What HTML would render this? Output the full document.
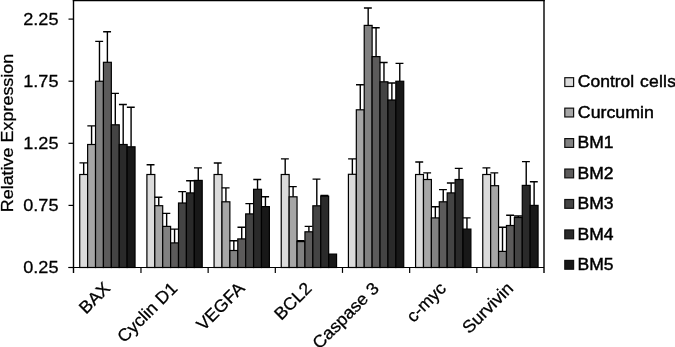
<!DOCTYPE html><html><head><meta charset="utf-8"><title>chart</title><style>html,body{margin:0;padding:0;background:#fff}svg{display:block}text{font-family:"Liberation Sans",sans-serif;fill:#000;stroke:#000;stroke-width:0.28px}text.lg{stroke-width:0.45px}</style></head><body>
<svg width="675" height="347" viewBox="0 0 675 347">
<rect width="675" height="347" fill="#fff"/>
<rect x="79.73" y="174.50" width="7.90" height="93.00" fill="#dbdbdb" stroke="#000" stroke-width="1.2"/>
<rect x="87.63" y="144.50" width="7.90" height="123.00" fill="#a6a6a6" stroke="#000" stroke-width="1.2"/>
<rect x="95.53" y="81.25" width="7.90" height="186.25" fill="#818181" stroke="#000" stroke-width="1.2"/>
<rect x="103.43" y="62.30" width="7.90" height="205.20" fill="#5c5b5b" stroke="#000" stroke-width="1.2"/>
<rect x="111.34" y="124.80" width="7.90" height="142.70" fill="#444444" stroke="#000" stroke-width="1.2"/>
<rect x="119.24" y="144.50" width="7.90" height="123.00" fill="#2a2a2a" stroke="#000" stroke-width="1.2"/>
<rect x="127.14" y="146.80" width="7.90" height="120.70" fill="#181818" stroke="#000" stroke-width="1.2"/>
<path d="M83.68 174.50V162.90M79.43 162.90H87.33" fill="none" stroke="#000" stroke-width="1.4"/>
<path d="M91.58 144.50V125.90M87.33 125.90H95.23" fill="none" stroke="#000" stroke-width="1.4"/>
<path d="M99.48 81.25V41.40M95.23 41.40H103.13" fill="none" stroke="#000" stroke-width="1.4"/>
<path d="M107.39 62.30V31.80M103.13 31.80H111.04" fill="none" stroke="#000" stroke-width="1.4"/>
<path d="M115.29 124.80V93.40M111.04 93.40H118.94" fill="none" stroke="#000" stroke-width="1.4"/>
<path d="M123.19 144.50V104.50M118.94 104.50H126.84" fill="none" stroke="#000" stroke-width="1.4"/>
<path d="M131.09 146.80V107.30M126.84 107.30H134.74" fill="none" stroke="#000" stroke-width="1.4"/>
<rect x="146.90" y="174.50" width="7.90" height="93.00" fill="#dbdbdb" stroke="#000" stroke-width="1.2"/>
<rect x="154.80" y="205.70" width="7.90" height="61.80" fill="#a6a6a6" stroke="#000" stroke-width="1.2"/>
<rect x="162.70" y="226.40" width="7.90" height="41.10" fill="#818181" stroke="#000" stroke-width="1.2"/>
<rect x="170.61" y="242.90" width="7.90" height="24.60" fill="#5c5b5b" stroke="#000" stroke-width="1.2"/>
<rect x="178.51" y="203.00" width="7.90" height="64.50" fill="#444444" stroke="#000" stroke-width="1.2"/>
<rect x="186.41" y="192.90" width="7.90" height="74.60" fill="#2a2a2a" stroke="#000" stroke-width="1.2"/>
<rect x="194.31" y="180.40" width="7.90" height="87.10" fill="#181818" stroke="#000" stroke-width="1.2"/>
<path d="M150.85 174.50V164.70M146.60 164.70H154.50" fill="none" stroke="#000" stroke-width="1.4"/>
<path d="M158.75 205.70V197.30M154.50 197.30H162.40" fill="none" stroke="#000" stroke-width="1.4"/>
<path d="M166.65 226.40V213.40M162.40 213.40H170.31" fill="none" stroke="#000" stroke-width="1.4"/>
<path d="M174.56 242.90V229.10M170.31 229.10H178.21" fill="none" stroke="#000" stroke-width="1.4"/>
<path d="M182.46 203.00V191.60M178.21 191.60H186.11" fill="none" stroke="#000" stroke-width="1.4"/>
<path d="M190.36 192.90V180.70M186.11 180.70H194.01" fill="none" stroke="#000" stroke-width="1.4"/>
<path d="M198.26 180.40V167.90M194.01 167.90H201.92" fill="none" stroke="#000" stroke-width="1.4"/>
<rect x="214.07" y="174.50" width="7.90" height="93.00" fill="#dbdbdb" stroke="#000" stroke-width="1.2"/>
<rect x="221.97" y="201.80" width="7.90" height="65.70" fill="#a6a6a6" stroke="#000" stroke-width="1.2"/>
<rect x="229.87" y="250.50" width="7.90" height="17.00" fill="#818181" stroke="#000" stroke-width="1.2"/>
<rect x="237.78" y="238.90" width="7.90" height="28.60" fill="#5c5b5b" stroke="#000" stroke-width="1.2"/>
<rect x="245.68" y="213.90" width="7.90" height="53.60" fill="#444444" stroke="#000" stroke-width="1.2"/>
<rect x="253.58" y="189.30" width="7.90" height="78.20" fill="#2a2a2a" stroke="#000" stroke-width="1.2"/>
<rect x="261.48" y="206.60" width="7.90" height="60.90" fill="#181818" stroke="#000" stroke-width="1.2"/>
<path d="M218.02 174.50V163.00M213.77 163.00H221.67" fill="none" stroke="#000" stroke-width="1.4"/>
<path d="M225.92 201.80V187.90M221.67 187.90H229.57" fill="none" stroke="#000" stroke-width="1.4"/>
<path d="M233.83 250.50V240.70M229.57 240.70H237.48" fill="none" stroke="#000" stroke-width="1.4"/>
<path d="M241.73 238.90V227.30M237.48 227.30H245.38" fill="none" stroke="#000" stroke-width="1.4"/>
<path d="M249.63 213.90V203.60M245.38 203.60H253.28" fill="none" stroke="#000" stroke-width="1.4"/>
<path d="M257.53 189.30V179.50M253.28 179.50H261.18" fill="none" stroke="#000" stroke-width="1.4"/>
<path d="M265.44 206.60V196.80M261.18 196.80H269.09" fill="none" stroke="#000" stroke-width="1.4"/>
<rect x="281.24" y="174.50" width="7.90" height="93.00" fill="#dbdbdb" stroke="#000" stroke-width="1.2"/>
<rect x="289.14" y="196.80" width="7.90" height="70.70" fill="#a6a6a6" stroke="#000" stroke-width="1.2"/>
<rect x="297.05" y="241.60" width="7.90" height="25.90" fill="#818181" stroke="#000" stroke-width="1.2"/>
<rect x="304.95" y="231.80" width="7.90" height="35.70" fill="#5c5b5b" stroke="#000" stroke-width="1.2"/>
<rect x="312.85" y="205.80" width="7.90" height="61.70" fill="#444444" stroke="#000" stroke-width="1.2"/>
<rect x="320.75" y="196.20" width="7.90" height="71.30" fill="#2a2a2a" stroke="#000" stroke-width="1.2"/>
<rect x="328.66" y="254.10" width="7.90" height="13.40" fill="#181818" stroke="#000" stroke-width="1.2"/>
<path d="M285.19 174.50V158.90M280.94 158.90H288.84" fill="none" stroke="#000" stroke-width="1.4"/>
<path d="M293.09 196.80V186.60M288.84 186.60H296.75" fill="none" stroke="#000" stroke-width="1.4"/>
<path d="M301.00 241.60V240.60M296.75 240.60H304.65" fill="none" stroke="#000" stroke-width="1.4"/>
<path d="M308.90 231.80V226.40M304.65 226.40H312.55" fill="none" stroke="#000" stroke-width="1.4"/>
<path d="M316.80 205.80V179.10M312.55 179.10H320.45" fill="none" stroke="#000" stroke-width="1.4"/>
<path d="M324.71 196.20V195.50M320.45 195.50H328.36" fill="none" stroke="#000" stroke-width="1.4"/>
<rect x="348.41" y="174.30" width="7.90" height="93.20" fill="#dbdbdb" stroke="#000" stroke-width="1.2"/>
<rect x="356.32" y="109.80" width="7.90" height="157.70" fill="#a6a6a6" stroke="#000" stroke-width="1.2"/>
<rect x="364.22" y="25.40" width="7.90" height="242.10" fill="#818181" stroke="#000" stroke-width="1.2"/>
<rect x="372.12" y="56.60" width="7.90" height="210.90" fill="#5c5b5b" stroke="#000" stroke-width="1.2"/>
<rect x="380.02" y="81.80" width="7.90" height="185.70" fill="#444444" stroke="#000" stroke-width="1.2"/>
<rect x="387.93" y="100.00" width="7.90" height="167.50" fill="#2a2a2a" stroke="#000" stroke-width="1.2"/>
<rect x="395.83" y="81.25" width="7.90" height="186.25" fill="#181818" stroke="#000" stroke-width="1.2"/>
<path d="M352.36 174.30V158.90M348.11 158.90H356.02" fill="none" stroke="#000" stroke-width="1.4"/>
<path d="M360.27 109.80V84.80M356.02 84.80H363.92" fill="none" stroke="#000" stroke-width="1.4"/>
<path d="M368.17 25.40V8.00M363.92 8.00H371.82" fill="none" stroke="#000" stroke-width="1.4"/>
<path d="M376.07 56.60V27.70M371.82 27.70H379.72" fill="none" stroke="#000" stroke-width="1.4"/>
<path d="M383.97 81.80V62.50M379.72 62.50H387.63" fill="none" stroke="#000" stroke-width="1.4"/>
<path d="M391.88 100.00V83.00M387.63 83.00H395.53" fill="none" stroke="#000" stroke-width="1.4"/>
<path d="M399.78 81.25V63.40M395.53 63.40H403.43" fill="none" stroke="#000" stroke-width="1.4"/>
<rect x="415.58" y="174.50" width="7.90" height="93.00" fill="#dbdbdb" stroke="#000" stroke-width="1.2"/>
<rect x="423.49" y="179.50" width="7.90" height="88.00" fill="#a6a6a6" stroke="#000" stroke-width="1.2"/>
<rect x="431.39" y="217.90" width="7.90" height="49.60" fill="#818181" stroke="#000" stroke-width="1.2"/>
<rect x="439.29" y="201.80" width="7.90" height="65.70" fill="#5c5b5b" stroke="#000" stroke-width="1.2"/>
<rect x="447.19" y="192.90" width="7.90" height="74.60" fill="#444444" stroke="#000" stroke-width="1.2"/>
<rect x="455.10" y="179.50" width="7.90" height="88.00" fill="#2a2a2a" stroke="#000" stroke-width="1.2"/>
<rect x="463.00" y="229.10" width="7.90" height="38.40" fill="#181818" stroke="#000" stroke-width="1.2"/>
<path d="M419.54 174.50V162.00M415.28 162.00H423.19" fill="none" stroke="#000" stroke-width="1.4"/>
<path d="M427.44 179.50V172.90M423.19 172.90H431.09" fill="none" stroke="#000" stroke-width="1.4"/>
<path d="M435.34 217.90V206.80M431.09 206.80H438.99" fill="none" stroke="#000" stroke-width="1.4"/>
<path d="M443.24 201.80V189.60M438.99 189.60H446.89" fill="none" stroke="#000" stroke-width="1.4"/>
<path d="M451.15 192.90V183.00M446.89 183.00H454.80" fill="none" stroke="#000" stroke-width="1.4"/>
<path d="M459.05 179.50V168.40M454.80 168.40H462.70" fill="none" stroke="#000" stroke-width="1.4"/>
<path d="M466.95 229.10V217.90M462.70 217.90H470.60" fill="none" stroke="#000" stroke-width="1.4"/>
<rect x="482.76" y="174.50" width="7.90" height="93.00" fill="#dbdbdb" stroke="#000" stroke-width="1.2"/>
<rect x="490.66" y="185.70" width="7.90" height="81.80" fill="#a6a6a6" stroke="#000" stroke-width="1.2"/>
<rect x="498.56" y="251.40" width="7.90" height="16.10" fill="#818181" stroke="#000" stroke-width="1.2"/>
<rect x="506.46" y="225.50" width="7.90" height="42.00" fill="#5c5b5b" stroke="#000" stroke-width="1.2"/>
<rect x="514.37" y="217.50" width="7.90" height="50.00" fill="#444444" stroke="#000" stroke-width="1.2"/>
<rect x="522.27" y="185.40" width="7.90" height="82.10" fill="#2a2a2a" stroke="#000" stroke-width="1.2"/>
<rect x="530.17" y="205.40" width="7.90" height="62.10" fill="#181818" stroke="#000" stroke-width="1.2"/>
<path d="M486.71 174.50V167.90M482.46 167.90H490.36" fill="none" stroke="#000" stroke-width="1.4"/>
<path d="M494.61 185.70V172.90M490.36 172.90H498.26" fill="none" stroke="#000" stroke-width="1.4"/>
<path d="M502.51 251.40V227.30M498.26 227.30H506.16" fill="none" stroke="#000" stroke-width="1.4"/>
<path d="M510.41 225.50V215.20M506.16 215.20H514.07" fill="none" stroke="#000" stroke-width="1.4"/>
<path d="M518.32 217.50V216.00M514.07 216.00H521.97" fill="none" stroke="#000" stroke-width="1.4"/>
<path d="M526.22 185.40V161.60M521.97 161.60H529.87" fill="none" stroke="#000" stroke-width="1.4"/>
<path d="M534.12 205.40V181.80M529.87 181.80H537.77" fill="none" stroke="#000" stroke-width="1.4"/>
<path d="M73.5 272.9V0M544.0 0V272.9" fill="none" stroke="#000" stroke-width="1.4"/>
<path d="M72.8 0.65H544.7" fill="none" stroke="#000" stroke-width="1.3"/>
<path d="M68.5 267.5H544.0" fill="none" stroke="#000" stroke-width="1.2"/>
<path d="M68.5 19.10H73.5" stroke="#000" stroke-width="1.2"/>
<text transform="translate(58.5 24.50) scale(1.073 1)" font-size="16.9" text-anchor="end">2.25</text>
<path d="M68.5 81.20H73.5" stroke="#000" stroke-width="1.2"/>
<text transform="translate(58.5 86.50) scale(1.073 1)" font-size="16.9" text-anchor="end">1.75</text>
<path d="M68.5 143.30H73.5" stroke="#000" stroke-width="1.2"/>
<text transform="translate(58.5 148.50) scale(1.073 1)" font-size="16.9" text-anchor="end">1.25</text>
<path d="M68.5 205.40H73.5" stroke="#000" stroke-width="1.2"/>
<text transform="translate(58.5 210.50) scale(1.073 1)" font-size="16.9" text-anchor="end">0.75</text>
<path d="M68.5 267.50H73.5" stroke="#000" stroke-width="1.2"/>
<text transform="translate(58.5 272.50) scale(1.073 1)" font-size="16.9" text-anchor="end">0.25</text>
<path d="M140.97 267.5V272.9" stroke="#000" stroke-width="1.2"/>
<path d="M208.14 267.5V272.9" stroke="#000" stroke-width="1.2"/>
<path d="M275.31 267.5V272.9" stroke="#000" stroke-width="1.2"/>
<path d="M342.49 267.5V272.9" stroke="#000" stroke-width="1.2"/>
<path d="M409.66 267.5V272.9" stroke="#000" stroke-width="1.2"/>
<path d="M476.83 267.5V272.9" stroke="#000" stroke-width="1.2"/>
<text transform="translate(111.29 289.40) rotate(-45) scale(1.035 1)" font-size="17.3" text-anchor="end">BAX</text>
<text transform="translate(178.46 289.40) rotate(-45) scale(1.035 1)" font-size="17.3" text-anchor="end">Cyclin D1</text>
<text transform="translate(245.63 289.40) rotate(-45) scale(1.035 1)" font-size="17.3" text-anchor="end">VEGFA</text>
<text transform="translate(312.80 289.40) rotate(-45) scale(1.035 1)" font-size="17.3" text-anchor="end">BCL2</text>
<text transform="translate(379.97 289.40) rotate(-45) scale(1.035 1)" font-size="17.3" text-anchor="end">Caspase 3</text>
<text transform="translate(447.14 289.40) rotate(-45) scale(1.035 1)" font-size="17.3" text-anchor="end">c-myc</text>
<text transform="translate(514.31 289.40) rotate(-45) scale(1.035 1)" font-size="17.3" text-anchor="end">Survivin</text>
<text transform="translate(12.6 133.0) rotate(-90) scale(1.075 1)" font-size="16.7" text-anchor="middle">Relative Expression</text>
<rect x="564.8" y="77.70" width="8.8" height="8.8" fill="#dbdbdb" stroke="#111" stroke-width="1.2"/>
<text transform="translate(577.8 87.30) scale(1.012 1)" font-size="17.3" class="lg">Control<tspan dx="0.85" letter-spacing="0.21"> cells</tspan></text>
<rect x="564.8" y="108.15" width="8.8" height="8.8" fill="#a6a6a6" stroke="#111" stroke-width="1.2"/>
<text transform="translate(577.8 117.75) scale(1.028 1)" font-size="17.3" class="lg">Curcumin</text>
<rect x="564.8" y="138.60" width="8.8" height="8.8" fill="#818181" stroke="#111" stroke-width="1.2"/>
<text transform="translate(577.5 148.20) scale(1.012 1)" font-size="17.3" class="lg">BM1</text>
<rect x="564.8" y="169.05" width="8.8" height="8.8" fill="#5c5b5b" stroke="#111" stroke-width="1.2"/>
<text transform="translate(577.5 178.65) scale(1.012 1)" font-size="17.3" class="lg">BM2</text>
<rect x="564.8" y="199.50" width="8.8" height="8.8" fill="#444444" stroke="#111" stroke-width="1.2"/>
<text transform="translate(577.5 209.10) scale(1.012 1)" font-size="17.3" class="lg">BM3</text>
<rect x="564.8" y="229.95" width="8.8" height="8.8" fill="#2a2a2a" stroke="#111" stroke-width="1.2"/>
<text transform="translate(577.5 239.55) scale(1.012 1)" font-size="17.3" class="lg">BM4</text>
<rect x="564.8" y="260.40" width="8.8" height="8.8" fill="#181818" stroke="#111" stroke-width="1.2"/>
<text transform="translate(577.5 270.00) scale(1.012 1)" font-size="17.3" class="lg">BM5</text>
</svg></body></html>
